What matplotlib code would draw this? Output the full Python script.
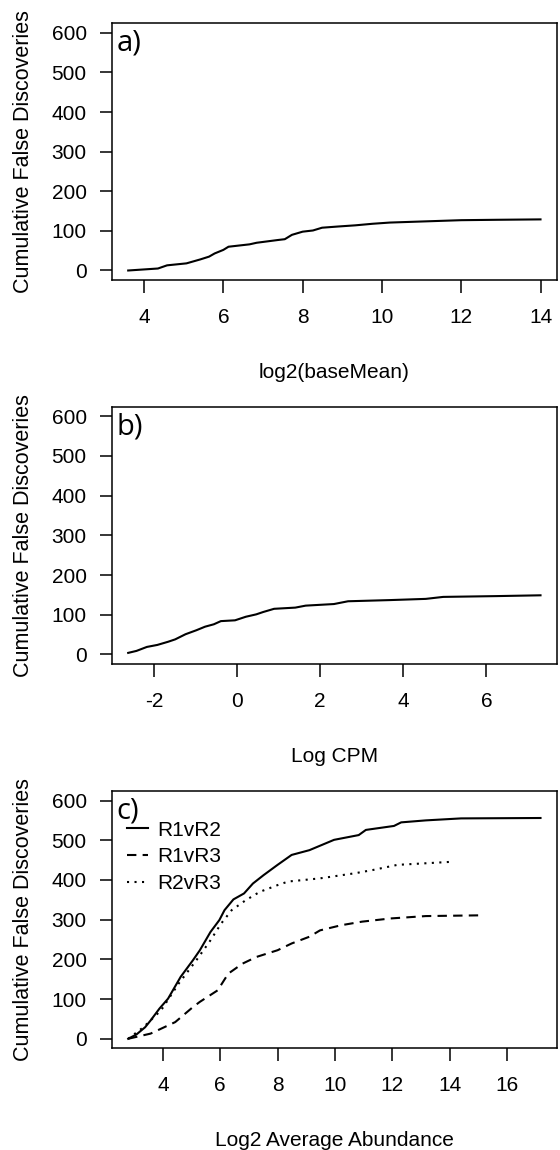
import numpy as np
import matplotlib
matplotlib.use("Agg")
import matplotlib.pyplot as plt

plt.rcParams.update({
    "font.family": ["Liberation Sans", "DejaVu Sans"], "font.size": 15,
    "axes.linewidth": 1.1, "xtick.major.width": 1.1, "ytick.major.width": 1.1,
    "xtick.major.size": 9, "ytick.major.size": 9,
    "xtick.direction": "out", "ytick.direction": "out",
    "axes.unicode_minus": False,
})

# (a) DESeq: cumulative false discoveries vs log2(baseMean)
a_x = [3.6, 4.35, 4.58, 5.07, 5.42, 5.64, 5.78, 6.0, 6.13, 6.66, 6.84, 7.38, 7.55, 7.73,
       8.0, 8.26, 8.49, 8.89, 9.33, 9.77, 10.2, 11.1, 12.0, 12.9, 14.0]
a_y = [0, 5, 13, 18, 28, 35, 43, 52, 60, 66, 70, 77, 79, 90,
       98, 101, 108, 111, 114, 118, 121, 124, 127, 128, 129]

# (b) edgeR: cumulative false discoveries vs log CPM
b_x = [-2.62, -2.42, -2.17, -1.92, -1.66, -1.49, -1.24, -0.98, -0.77, -0.56, -0.39, -0.05,
       0.21, 0.46, 0.63, 0.89, 1.40, 1.65, 2.33, 2.67, 3.69, 4.54, 4.96, 6.24, 7.30]
b_y = [4, 9, 19, 24, 32, 38, 51, 61, 70, 76, 84, 86,
       95, 101, 107, 115, 118, 123, 127, 134, 137, 140, 145, 147, 149]

# (c) pairwise replicate comparisons vs log2 average abundance
r12_x = [2.79, 3.08, 3.38, 3.57, 3.88, 4.18, 4.62, 5.05, 5.29, 5.66, 5.97, 6.15, 6.46, 6.83,
         7.14, 7.51, 8.0, 8.49, 9.11, 9.97, 10.83, 11.08, 12.06, 12.31, 13.17, 14.4, 17.17]
r12_y = [0, 11, 29, 46, 76, 101, 156, 198, 223, 269, 299, 324, 351, 366,
         391, 412, 438, 463, 475, 501, 513, 526, 536, 545, 550, 555, 556]
r13_x = [2.79, 3.57, 4.43, 5.05, 5.29, 5.91, 6.28, 6.77, 7.26, 8.0, 8.49, 9.11, 9.48,
         10.22, 10.95, 11.94, 13.17, 15.2]
r13_y = [0, 13, 42, 80, 93, 122, 164, 189, 206, 223, 240, 257, 273,
         286, 295, 303, 309, 311]
r23_x = [2.79, 3.32, 3.94, 4.55, 5.17, 5.66, 6.03, 6.40, 6.89, 7.38, 8.0, 8.37, 9.48,
         10.71, 11.32, 12.18, 13.17, 14.15]
r23_y = [0, 29, 72, 139, 198, 248, 290, 324, 349, 370, 387, 396, 404,
         417, 425, 438, 442, 446]

a_ticks = [4, 6, 8, 10, 12, 14]
b_ticks = [-2, 0, 2, 4, 6]
c_ticks = [4, 6, 8, 10, 12, 14, 16]
y_ticks = [0, 100, 200, 300, 400, 500, 600]

W, H = 560, 1150
fig = plt.figure(figsize=(W / 100, H / 100), dpi=100)

LW = 1.5
DASH = (0, (4.5, 3.0))
DOT = (0, (1.0, 2.6))


def make_axes(top_px, bottom_px):
    left, right = 111.7, 557.0
    return fig.add_axes([left / W, 1 - bottom_px / H, (right - left) / W, (bottom_px - top_px) / H])


def style(ax, xticks, xlabel, tag, box_h):
    ax.set_xticks(xticks)
    ax.set_yticks(y_ticks)
    ax.set_ylim(-24, 624)
    ax.margins(x=0.04)
    ax.tick_params(axis="x", pad=11)
    ax.tick_params(axis="y", pad=9)
    ax.set_ylabel("Cumulative False Discoveries", va="center", fontsize=15.5)
    ax.yaxis.set_label_coords((23 - 111.7) / (557 - 111.7), 0.5)
    ax.set_xlabel(xlabel, va="center")
    ax.xaxis.set_label_coords(0.5, -92 / box_h)
    ax.text(0.011, 0.978, tag, transform=ax.transAxes, ha="left", va="top",
            fontsize=21, family=["Open Sans", "DejaVu Sans"])


ax = make_axes(23.3, 280.0)
ax.plot(a_x, a_y, color="black", lw=LW)
style(ax, a_ticks, "log2(baseMean)", "a)", 256.7)

ax = make_axes(406.7, 664.0)
ax.plot(b_x, b_y, color="black", lw=LW)
style(ax, b_ticks, "Log CPM", "b)", 257.3)

ax = make_axes(791.0, 1048.3)
ax.plot(r12_x, r12_y, color="black", lw=LW, label="R1vR2")
ax.plot(r13_x, r13_y, color="black", lw=LW, ls=DASH, label="R1vR3")
ax.plot(r23_x, r23_y, color="black", lw=LW, ls=DOT, label="R2vR3")
style(ax, c_ticks, "Log2 Average Abundance", "c)", 257.3)
ax.legend(loc="upper left", bbox_to_anchor=(0.034, 0.885), frameon=False, fontsize=15,
          handlelength=1.0, handletextpad=0.45, labelspacing=0.37, borderaxespad=0,
          borderpad=0)

fig.savefig("out.png", dpi=100)
